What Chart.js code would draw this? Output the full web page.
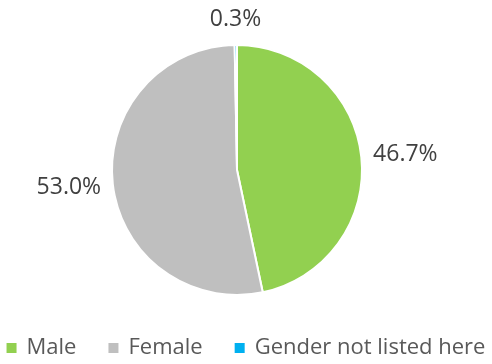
<!DOCTYPE html>
<html>
<head>
<meta charset="utf-8">
<script src="https://cdn.jsdelivr.net/npm/chart.js@4"></script>
<style>
  html, body { margin: 0; padding: 0; background: #fff; }
  #wrap { width: 492px; height: 364px; }
</style>
</head>
<body>
<div id="wrap"><canvas id="myChart" width="492" height="364"></canvas></div>
<script>
const labels = ["Male", "Female", "Gender not listed here"];
const shares = [46.7, 53.0, 0.3];
const sliceColors = ["#92D050", "#BFBFBF", "#00B0F0"];

// percentage labels just outside each slice
const outsideLabels = {
  id: "outsideLabels",
  afterDatasetsDraw(chart) {
    const ctx = chart.ctx;
    const meta = chart.getDatasetMeta(0);
    ctx.save();
    ctx.font = "23px 'Open Sans'";
    ctx.fillStyle = "#404040";
    ctx.textAlign = "center";
    ctx.textBaseline = "middle";
    meta.data.forEach((arc, i) => {
      const p = arc.getProps(["x", "y", "startAngle", "endAngle", "outerRadius"], true);
      const mid = (p.startAngle + p.endAngle) / 2;
      const text = shares[i].toFixed(1) + "%";
      const w = ctx.measureText(text).width;
      const r = p.outerRadius + 12;
      const cx = p.x + Math.cos(mid) * (r + w / 2);
      const cy = p.y + Math.sin(mid) * (r + 14);
      ctx.fillText(text, cx, cy);
    });
    ctx.restore();
  }
};

// legend row under the pie (built-in legend wraps with this spacing)
const bottomLegend = {
  id: "bottomLegend",
  afterDraw(chart) {
    const ctx = chart.ctx;
    const box = 10, textGap = 10, itemGap = 32, y = 348;
    ctx.save();
    ctx.font = "22px 'Open Sans'";
    ctx.textBaseline = "middle";
    const widths = labels.map((l) => box + textGap + ctx.measureText(l).width);
    const total = widths.reduce((a, b) => a + b, 0) + itemGap * (labels.length - 1);
    let x = (chart.width - total) / 2;
    labels.forEach((l, i) => {
      ctx.fillStyle = sliceColors[i];
      ctx.fillRect(x, y - box / 2, box, box);
      ctx.fillStyle = "#595959";
      ctx.fillText(l, x + box + textGap, y);
      x += widths[i] + itemGap;
    });
    ctx.restore();
  }
};

const ctx = document.getElementById("myChart");
new Chart(ctx, {
  type: "pie",
  data: {
    labels: labels,
    datasets: [
      {
        data: shares,
        backgroundColor: sliceColors,
        borderColor: "#ffffff",
        borderWidth: 2,
      },
    ],
  },
  options: {
    responsive: false,
    animation: false,
    layout: { padding: { top: 44, bottom: 68, left: 0, right: 18 } },
    plugins: {
      tooltip: { enabled: false },
      legend: { display: false },
    },
  },
  plugins: [outsideLabels, bottomLegend],
});
</script>
</body>
</html>
